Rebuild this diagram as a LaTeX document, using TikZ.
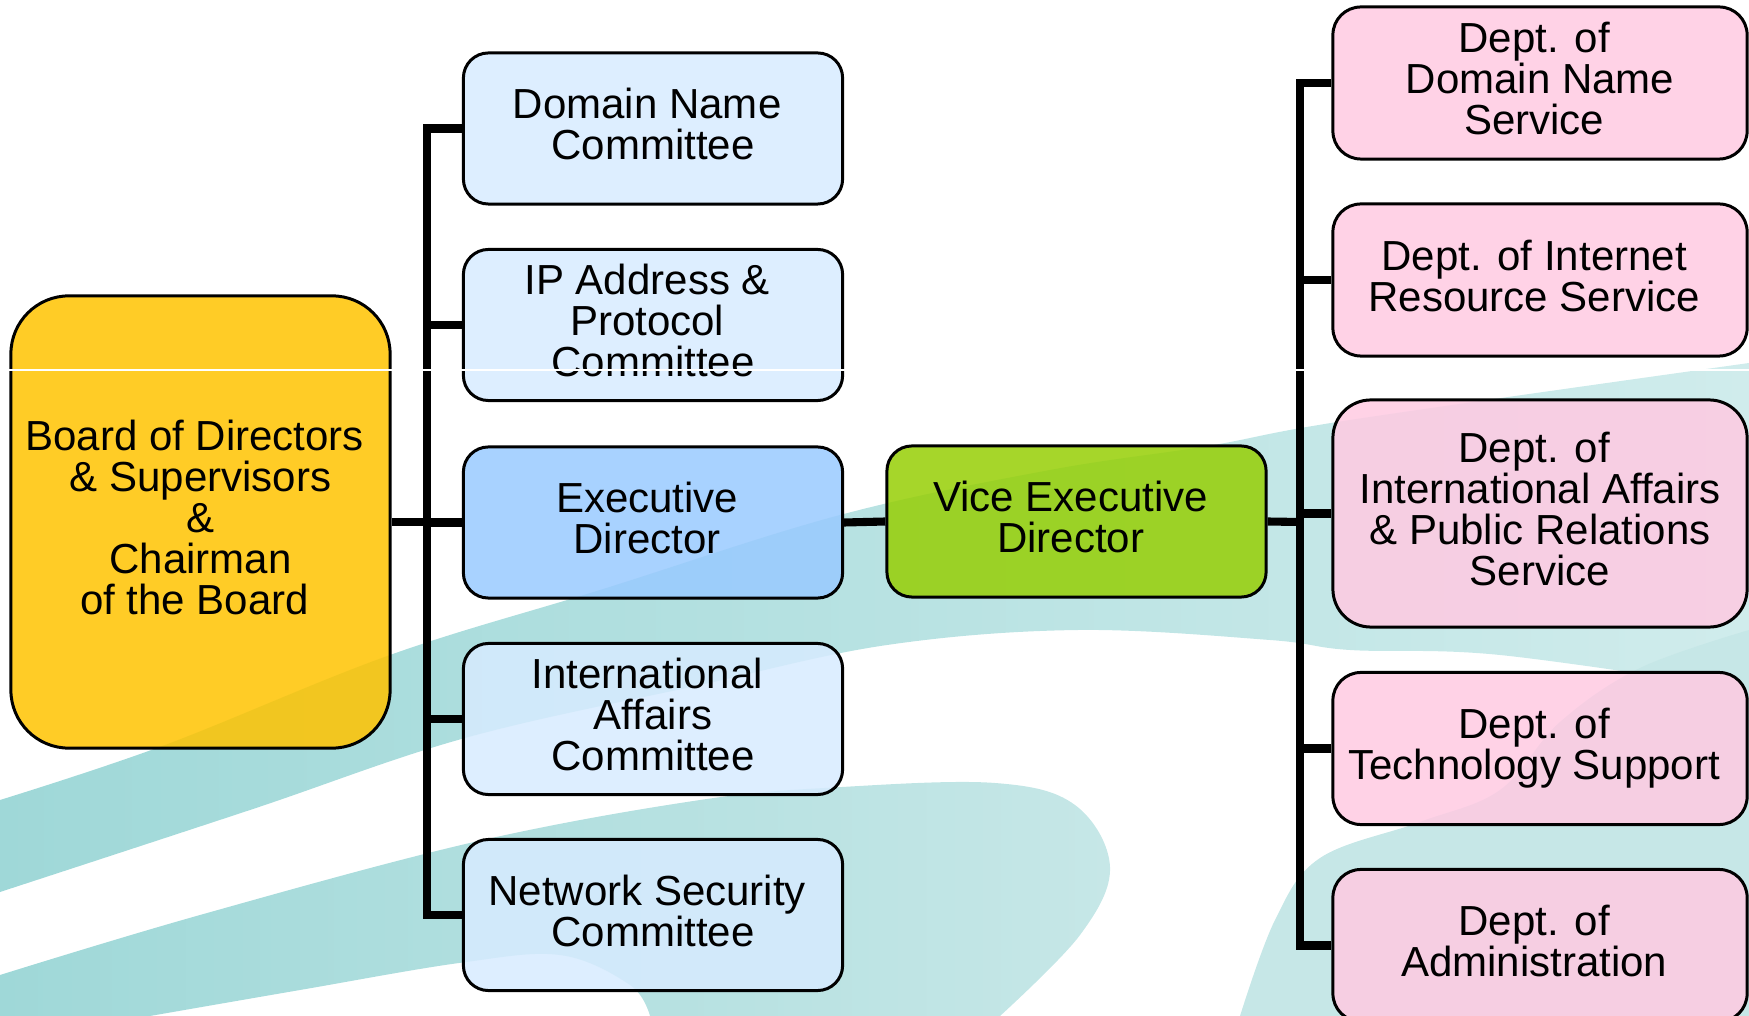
\documentclass[tikz,border=0pt]{standalone}
\usepackage{fontspec}
\setmainfont{Liberation Sans}
\definecolor{tealA}{HTML}{9FD8D8}
\definecolor{tealB}{HTML}{D0ECEC}
\definecolor{tealC}{HTML}{C6E7E7}
\definecolor{boardY}{HTML}{FFC300}
\definecolor{commB}{HTML}{D7EBFF}
\definecolor{execB}{HTML}{99CAFF}
\definecolor{viceG}{HTML}{96CF05}
\definecolor{deptP}{HTML}{FFCAE2}
\newcommand\tsp{\hspace*{0.278em}}
\tikzset{
  box/.style={draw=black, line width=0.85pt, fill opacity=0.85, text opacity=1,
    align=center, inner sep=0pt, font=\fontsize{11.95}{11.7}\selectfont,
    execute at end node={\rule[-2.6pt]{0pt}{2.6pt}}},
  combox/.style={box, rounded corners=0.25cm, minimum width=3.79cm, minimum height=1.51cm},
  deptbox/.style={box, rounded corners=0.28cm, fill=deptP, minimum width=4.14cm, minimum height=1.52cm},
  bus/.style={line width=2.3pt, line join=miter}
}
\begin{document}
\begin{tikzpicture}[x=0.01cm, y=-0.01cm]
\useasboundingbox (0,0) rectangle (1749,1016);
\begin{scope}
\clip (0,0) rectangle (1749,1016);
% background swooshes
\shade[left color=tealA, right color=tealB]
  plot[smooth, tension=0.6] coordinates {(0,800) (165,745) (390,655) (600,590) (840,515) (1050,470) (1208,446) (1350,420) (1749,363)}
  -- (1749,690)
  -- plot[smooth, tension=0.6] coordinates {(1749,690) (1500,655) (1350,650) (1270,640) (1078,630) (887,645) (700,685) (465,738) (250,810) (0,892)}
  -- cycle;
\shade[left color=tealA, right color=tealC]
  plot[smooth, tension=0.6] coordinates {(0,975) (200,915) (474,842) (700,800) (842,787) (995,783) (1075,805) (1110,867) (1080,935) (1000,1016)}
  -- (650,1016)
  -- plot[smooth, tension=0.6] coordinates {(650,1016) (630,985) (560,955) (459,963) (300,990) (150,1016)}
  -- (0,1016) -- cycle;
\fill[tealC]
  plot[smooth, tension=0.6] coordinates {(1240,1016) (1275,920) (1320,858) (1420,822) (1500,790) (1560,722) (1640,668) (1749,630)}
  -- (1749,1016) -- cycle;
\end{scope}

% nodes
\node[box, rounded corners=0.58cm, fill=boardY, minimum width=3.79cm, minimum height=4.52cm] (board) at (200.5,522)
  {Board of Directors\tsp\\\& Supervisors\\\&\tsp\\Chairman\tsp\\of the Board\tsp};
\node[combox, fill=commB] (dn) at (653,128.5) {Domain Name\tsp\\Committee};
\node[combox, fill=commB] (ip) at (653,325) {IP Address \&\tsp\\Protocol\tsp\tsp\\Committee};
\node[combox, fill=execB] (exec) at (653,522.5) {Executive\tsp\\Director\tsp};
\node[combox, fill=commB] (ia) at (653,719) {International\tsp\\Affairs\tsp\\Committee};
\node[combox, fill=commB] (ns) at (653,915) {Network Security\tsp\\Committee};
\node[combox, fill=viceG] (vice) at (1076.5,521.5) {Vice Executive\tsp\\Director\tsp};
\node[deptbox] (d1) at (1540,83) {Dept. of\tsp\\Domain Name\tsp\\Service\tsp};
\node[deptbox] (d2) at (1540,280) {Dept. of Internet\tsp\\Resource Service\tsp};
\node[deptbox, rounded corners=0.38cm, minimum height=2.27cm] (d3) at (1540,513.5) {Dept. of\tsp\\International Affairs\tsp\\\& Public Relations\tsp\\Service};
\node[deptbox] (d4) at (1540,748.5) {Dept. of\tsp\\Technology Support\tsp};
\node[deptbox] (d5) at (1540,945.5) {Dept. of\tsp\\Administration\tsp};

% connectors
\coordinate (lbus) at (427,522);
\coordinate (rbus) at (1300,522);
\draw[bus] (board.east) -- (lbus);
\foreach \c in {dn,ip,exec,ia,ns} \draw[bus] (lbus) |- (\c.west);
\draw[bus] (exec.east) -- (vice.west);
\draw[bus] (vice.east) -- (rbus);
\foreach \c in {d1,d2,d3,d4,d5} \draw[bus] (rbus) |- (\c.west);

% thin white scan line
\draw[white, line width=0.4pt] (0,370) -- (1749,370);
\end{tikzpicture}
\end{document}
